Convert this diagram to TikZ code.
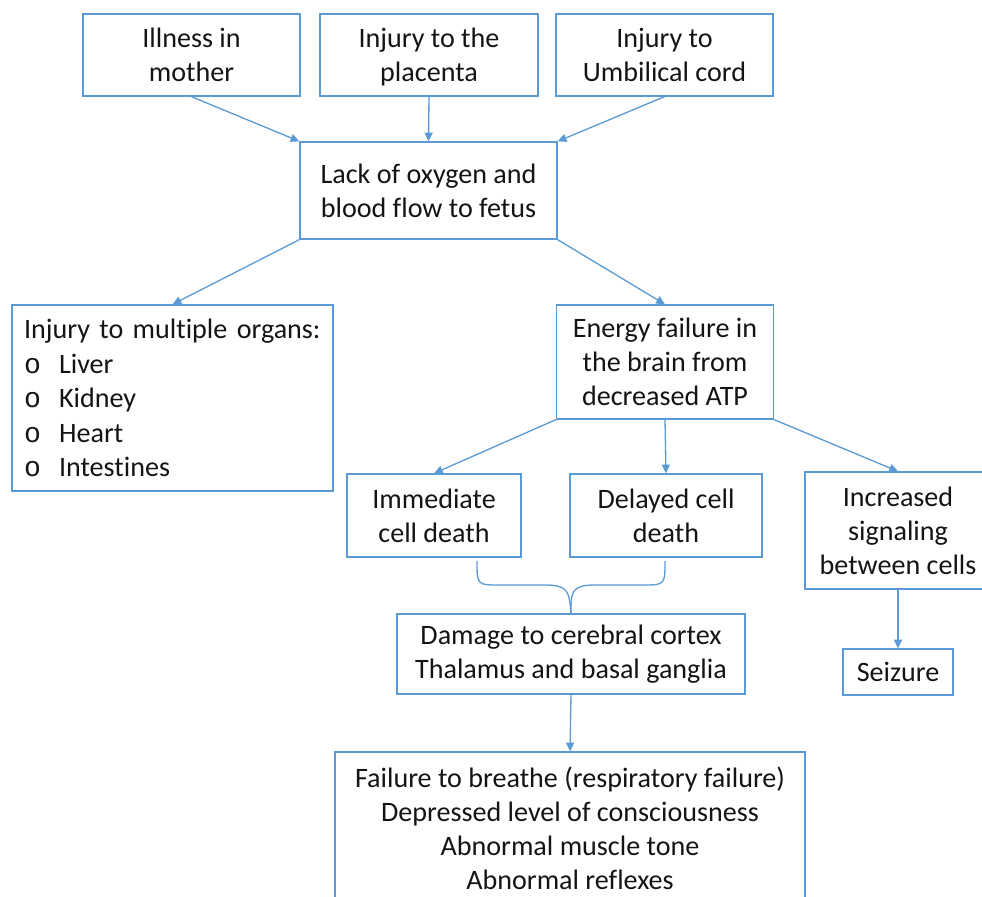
\documentclass[tikz,border=0pt]{standalone}
\usepackage{fontspec}
\setmainfont{Carlito}[Ligatures=NoCommon]
\newfontfamily\bulletfont{Liberation Mono}
\usepackage{xcolor}
\usetikzlibrary{arrows.meta,positioning,calc}
\definecolor{linkblue}{RGB}{91,155,213}
\definecolor{inktext}{RGB}{20,20,20}

\begin{document}
\begin{tikzpicture}[
        x=0.02cm, y=-0.02cm,
        font=\fontsize{16}{19.4}\selectfont,
        box/.style={draw=linkblue, line width=0.75pt, rectangle, align=center, text=inktext, inner sep=0pt},
        arrow/.style={-{Triangle[length=5pt,width=4.6pt]}, draw=linkblue, line width=0.75pt}
    ]
    \useasboundingbox (0,0) rectangle (982,896);
    \clip (0,0) rectangle (982,896);

    % causes
    \node[box, minimum width=4.34cm, minimum height=1.64cm] (illness) at (191.5,55) {Illness in\\mother};
    \node[box, minimum width=4.36cm, minimum height=1.64cm] (placenta) at (429,55) {\strut Injury to the\\placenta};
    \node[box, minimum width=4.34cm, minimum height=1.64cm] (cord) at (664.5,55) {Injury to\\Umbilical cord};
    \node[box, minimum width=5.14cm, minimum height=1.94cm] (hypoxia) at (428.5,190.5) {Lack of oxygen and\\blood flow to fetus};

    % consequences
    \node[box, minimum height=3.72cm, text width=5.94cm, inner xsep=0.24cm, align=left, font=\fontsize{16}{19.7}\selectfont] (organs) at (172.5,398)
        {Injury to multiple organs:\\
         \makebox[0.7cm][l]{\bulletfont o}Liver\\
         \makebox[0.7cm][l]{\bulletfont o}Kidney\\
         \makebox[0.7cm][l]{\bulletfont o}Heart\\
         \makebox[0.7cm][l]{\bulletfont o}Intestines};
    \node[box, minimum width=4.34cm, minimum height=2.28cm] (energy) at (665,362) {Energy failure in\\the brain from\\decreased ATP};
    \node[box, minimum width=3.48cm, minimum height=1.66cm] (immediate) at (434,515.5) {Immediate\\cell death};
    \node[box, minimum width=3.84cm, minimum height=1.66cm] (delayed) at (666,515.5) {Delayed cell\\death};
    \node[box, minimum width=3.72cm, minimum height=2.34cm] (signaling) at (898,530.5) {Increased\\signaling\\between cells};
    \node[box, minimum width=2.2cm, minimum height=0.92cm] (seizure) at (898,672) {Seizure};
    \node[box, minimum width=6.96cm, minimum height=1.6cm] (damage) at (571,654) {Damage to cerebral cortex\\Thalamus and basal ganglia};
    \node[box, minimum width=9.4cm, minimum height=3.04cm] (failure) at (570,828)
        {Failure to breathe (respiratory failure)\\Depressed level of consciousness\\Abnormal muscle tone\\Abnormal reflexes};

    \draw[arrow] (illness.south) -- (hypoxia.north west);
    \draw[arrow] (placenta.south) -- (hypoxia.north);
    \draw[arrow] (cord.south) -- (hypoxia.north east);
    \draw[arrow] (hypoxia.south west) -- (organs.north);
    \draw[arrow] (hypoxia.south east) -- (energy.north);
    \draw[arrow] (energy.south west) -- (immediate.north);
    \draw[arrow] (energy.south) -- (delayed.north);
    \draw[arrow] (energy.south east) -- (signaling.north);
    \draw[arrow] (signaling.south) -- (seizure.north);
    \draw[arrow] (damage.south) -- (failure.north);

    % brace joining the two cell deaths
    \coordinate (braceL) at (477,561);
    \coordinate (braceR) at (665,561);
    \draw[linkblue, line width=0.75pt]
        (braceL) .. controls (477,585) .. (500,585) -- (545,585)
        .. controls (569,585) and (569,592) .. (damage.north);
    \draw[linkblue, line width=0.75pt]
        (braceR) .. controls (665,585) .. (642,585) -- (595,585)
        .. controls (571,585) and (571,592) .. (damage.north);
\end{tikzpicture}
\end{document}
